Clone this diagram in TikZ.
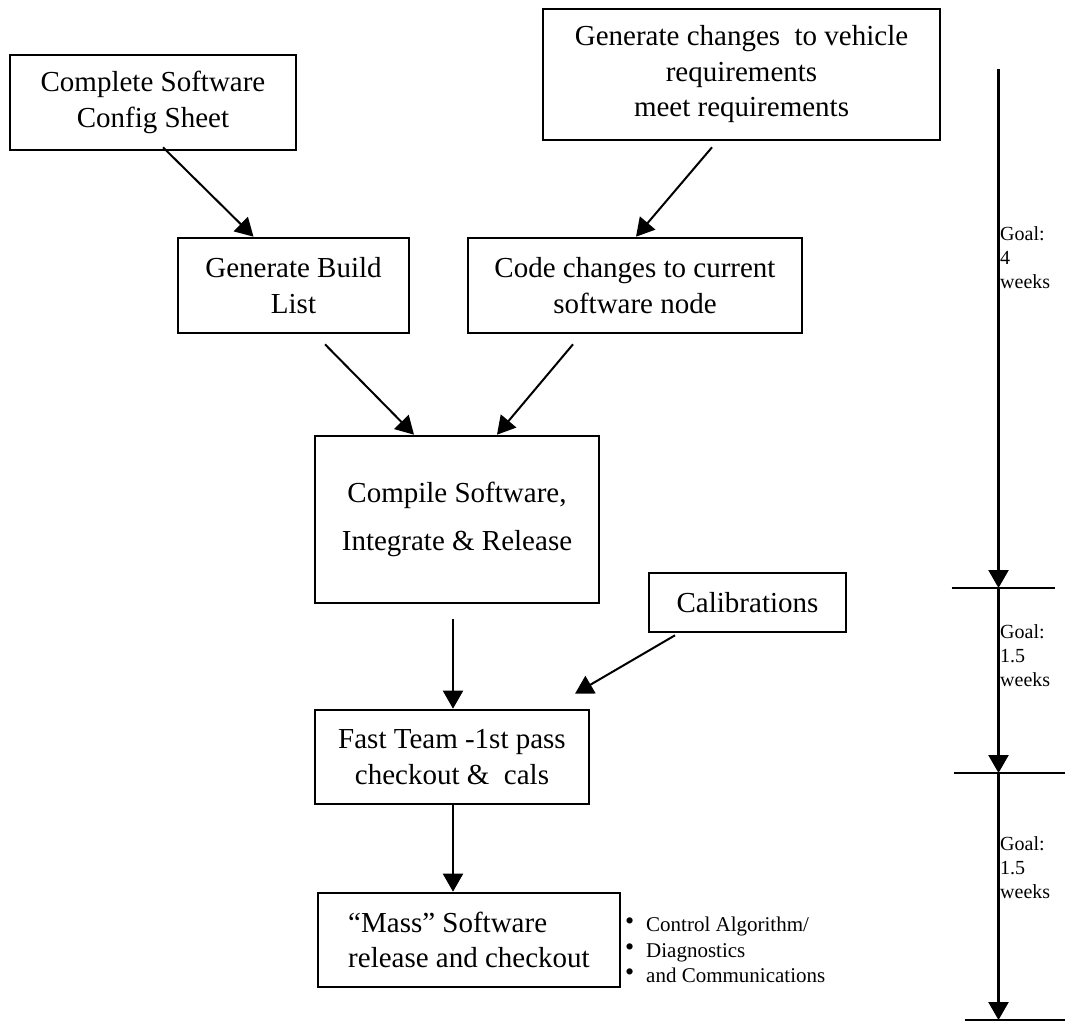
\documentclass[tikz,border=0pt]{standalone}
\usepackage{fontspec}
\setmainfont{Liberation Serif}
\usetikzlibrary{arrows.meta}

\newcommand{\notebullet}{\makebox[21pt][l]{\smash{\raisebox{2pt}{\fontsize{26}{0}\selectfont\textbullet}}}}

\begin{document}
\begin{tikzpicture}[x=1pt,y=-1pt,
    box/.style={draw, line width=2.6pt, inner sep=0pt, align=center, font=\fontsize{29}{35.5}\selectfont},
    flow/.style={line width=2pt, -{Triangle[length=18pt,width=20pt]}},
    tickline/.style={line width=2.4pt},
    goal/.style={anchor=west, align=left, inner sep=1pt, font=\fontsize{20}{24}\selectfont}]
  \useasboundingbox (0,0) rectangle (1065,1024);

  \node[box, minimum width=286pt, minimum height=95pt] (cfg) at (153,102.5) {Complete Software\\Config Sheet};
  \node[box, minimum width=397pt, minimum height=131pt] (reqs) at (741.5,74.5) {Generate changes \ to vehicle\\requirements\\meet requirements};
  \node[box, minimum width=231pt, minimum height=95pt] (build) at (293.5,285.5) {Generate Build\\List};
  \node[box, minimum width=334pt, minimum height=95pt] (code) at (635,285.5) {Code changes to current\\software node};
  \node[box, minimum width=284pt, minimum height=167pt] (compile) at (457,519.5) {Compile Software,\\[12pt]Integrate \& Release};
  \node[box, minimum width=197pt, minimum height=59pt] (calib) at (747.5,602.5) {Calibrations};
  \node[box, minimum width=274pt, minimum height=94pt] (fast) at (452,757) {Fast Team -1st pass\\checkout \& \ cals};
  \node[box, align=left, minimum width=302pt, minimum height=94pt] (mass) at (469,940) {“Mass” Software\\ release and checkout};

  \node[anchor=west, align=left, inner sep=0pt, font=\fontsize{21}{25.5}\selectfont] (notes) at (625,950)
    {\notebullet Control Algorithm/\\
     \notebullet Diagnostics\\
     \notebullet and Communications};

  \draw[flow] ([xshift=10pt,yshift=4pt]cfg.south) -- ([xshift=-40pt]build.north);
  \draw[flow] ([xshift=-29.5pt,yshift=-6pt]reqs.south) -- ([xshift=1pt]code.north);
  \draw[flow] ([xshift=31.5pt,yshift=-10pt]build.south) -- ([xshift=-43pt]compile.north);
  \draw[flow] ([xshift=-62pt,yshift=-10pt]code.south) -- ([xshift=40pt]compile.north);
  \draw[flow] ([xshift=-4pt,yshift=-15pt]compile.south) -- ([xshift=1pt]fast.north);
  \draw[flow] ([xshift=-72.5pt,yshift=-2pt]calib.south) -- ([xshift=123pt,yshift=15pt]fast.north);
  \draw[flow] ([xshift=1pt]fast.south) -- ([xshift=-16pt]mass.north);

  \coordinate (t0) at (998.5,69);
  \coordinate (t1) at (998.5,588);
  \coordinate (t2) at (998.5,773);
  \coordinate (t3) at (998.5,1020);
  \draw[flow, line width=2.4pt] (t0) -- (t1);
  \draw[flow, line width=2.4pt] (t1) -- (t2);
  \draw[flow, line width=2.4pt] (t2) -- (t3);
  \draw[tickline] ([xshift=-47pt]t1) -- ([xshift=56pt]t1);
  \draw[tickline] ([xshift=-45pt]t2) -- ([xshift=66pt]t2);
  \draw[tickline] ([xshift=-34pt]t3) -- ([xshift=66pt]t3);

  \node[goal] (goal1) at (999,258) {Goal:\\4\\weeks};
  \node[goal] (goal2) at (999,656) {Goal:\\1.5\\weeks};
  \node[goal] (goal3) at (999,868) {Goal:\\1.5\\weeks};
\end{tikzpicture}
\end{document}
